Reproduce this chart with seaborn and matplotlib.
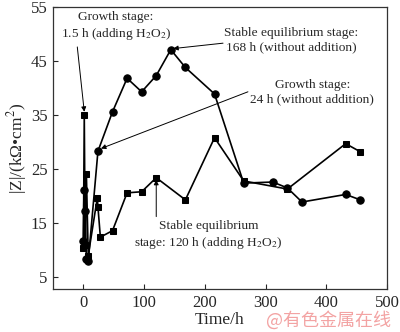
import matplotlib
matplotlib.use("Agg")
import matplotlib.pyplot as plt
import seaborn as sns
import pandas as pd

# Data (adding H2O2: squares; without addition: circles)
t_add = [0, 1.5, 3, 5, 8, 23, 24, 28, 48, 72, 96, 120, 168, 216, 264, 336, 432, 456]
z_add = [10.3, 35.0, 11.0, 24.0, 9.0, 19.7, 18.0, 12.4, 13.6, 20.6, 20.8, 23.4, 19.3, 30.8, 22.8, 21.3, 29.7, 28.2]
t_none = [0, 1, 3, 5, 8, 24, 48, 72, 96, 120, 144, 168, 216, 264, 312, 336, 360, 432, 456]
z_none = [11.7, 21.2, 17.2, 8.3, 7.9, 28.3, 35.6, 41.8, 39.3, 42.3, 47.1, 43.8, 38.9, 22.4, 22.6, 21.5, 18.9, 20.3, 19.3]

xticks = [0, 100, 200, 300, 400, 500]
yticks = [5, 15, 25, 35, 45, 55]

sns.set_style("ticks")
plt.rcParams['font.family'] = ['Liberation Serif', 'DejaVu Serif']
plt.rcParams['mathtext.fontset'] = 'stix'
plt.rcParams['xtick.direction'] = 'in'
plt.rcParams['ytick.direction'] = 'in'

fig = plt.figure(figsize=(4.0, 3.32), dpi=100)
ax = fig.add_axes([0.1325, 0.1295, 0.835, 0.8495])

df_add = pd.DataFrame({"t": t_add, "z": z_add})
df_none = pd.DataFrame({"t": t_none, "z": z_none})

sns.lineplot(data=df_none, x="t", y="z", ax=ax, sort=False, estimator=None,
             color="black", lw=1.2, marker="o", markersize=5.3,
             markeredgecolor="black", markerfacecolor="black")
sns.lineplot(data=df_add, x="t", y="z", ax=ax, sort=False, estimator=None,
             color="black", lw=1.2, marker="s", markersize=5,
             markeredgecolor="black", markerfacecolor="black")

ax.set_xlim(-50, 500)
ax.set_ylim(2.8, 55)
ax.set_xticks(xticks)
ax.set_yticks(yticks)
ax.tick_params(labelsize=12, length=3.5, width=0.8, pad=4)
for s in ax.spines.values():
    s.set_linewidth(0.9)
    s.set_color("#333333")

ax.set_xlabel("Time/h", fontsize=12.5, labelpad=1)
ax.set_ylabel("|Z|/(kΩ•cm$^2$)", fontsize=12.5, labelpad=1)

fs = 9.6
aprops = dict(arrowstyle="-|>", color="black", lw=0.7, mutation_scale=7,
              shrinkA=0, shrinkB=0)

ax.text(54, 51.4, "Growth stage:\n1.5 h (adding H$_2$O$_2$)", ha="center", va="center",
        fontsize=fs, linespacing=1.25)
ax.annotate("", xy=(1.5, 35.6), xytext=(-10, 47.6), arrowprops=aprops)

ax.text(342, 48.9, "Stable equilibrium stage:\n168 h (without addition)", ha="center",
        va="center", fontsize=fs, linespacing=1.25)
ax.annotate("", xy=(148, 47.3), xytext=(230, 48.3), arrowprops=aprops)

ax.text(377, 39.3, "Growth stage:\n24 h (without addition)", ha="center", va="center",
        fontsize=fs, linespacing=1.25)
ax.annotate("", xy=(29, 28.8), xytext=(271, 39.3), arrowprops=aprops)

ax.text(206, 12.7, "Stable equilibrium\nstage: 120 h (adding H$_2$O$_2$)", ha="center",
        va="center", fontsize=fs, linespacing=1.25)
ax.annotate("", xy=(120, 23.0), xytext=(120, 16.2), arrowprops=aprops)

fig.text(0.977, 0.035, "@有色金属在线", ha="right", va="center", fontsize=13,
         color="#f3a3a3", family=['Noto Sans CJK SC', 'DejaVu Sans'])

fig.savefig("out.png", dpi=100)
